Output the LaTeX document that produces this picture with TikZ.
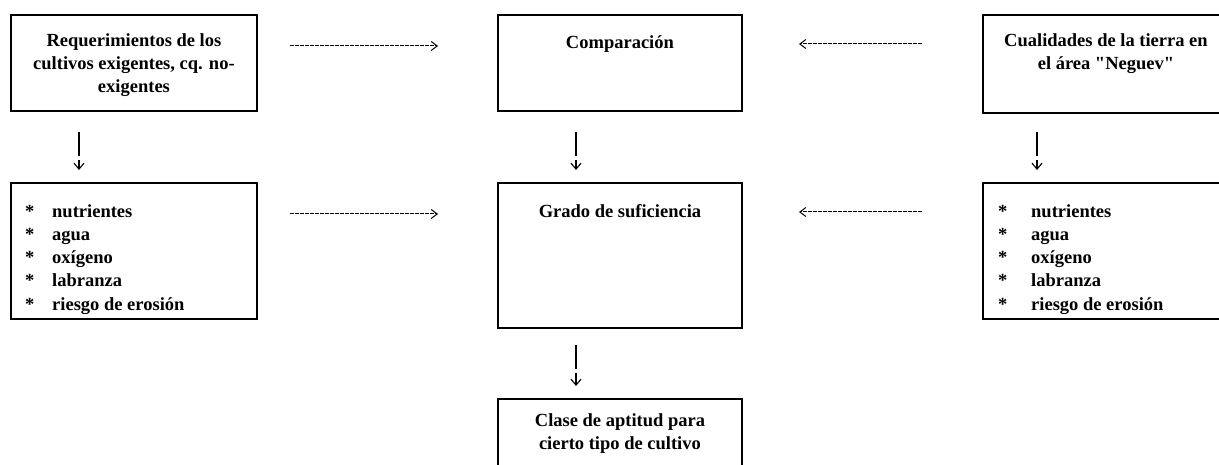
\documentclass[tikz,border=0pt]{standalone}
\usepackage{fontspec}
\setmainfont{Liberation Serif}[Ligatures=TeXOff]
\usetikzlibrary{arrows.meta,calc}
\begin{document}
\begin{tikzpicture}[x=1pt,y=-1pt,
  box/.style={draw,line width=1.9pt,inner sep=0pt,anchor=north west},
  txt/.style={font=\fontsize{18.5}{23}\selectfont\bfseries,align=center,inner sep=0pt,anchor=base},
  itm/.style={font=\fontsize{18.5}{23}\selectfont\bfseries,inner sep=0pt,anchor=base west},
  harrow/.style={line width=1pt,dash pattern=on 4pt off 1pt,-{Straight Barb[length=6pt,width=9pt,line width=1pt]}},
  varrow/.style={line width=1.5pt,dash pattern=on 24pt off 4pt,-{Straight Barb[length=6pt,width=10pt,line width=1.1pt]}}
]
\useasboundingbox (0,0) rectangle (1219,465);
\clip (0,0) rectangle (1219,465);
% boxes
\node[box,minimum width=246pt,minimum height=96pt] (req) at (10,14) {};
\node[box,minimum width=244pt,minimum height=96pt] (comp) at (497,14) {};
\node[box,minimum width=246pt,minimum height=98pt] (cual) at (982,14) {};
\node[box,minimum width=246pt,minimum height=136pt] (lstl) at (10,182) {};
\node[box,minimum width=244pt,minimum height=145pt] (grado) at (497,182) {};
\node[box,minimum width=246pt,minimum height=136pt] (lstr) at (982,182) {};
\node[box,minimum width=244pt,minimum height=90pt] (clase) at (497,398) {};
% texts (base anchor = last line)
\node[txt] (treq) at ($(req.north)+(0,79)$) {Requerimientos de los\\cultivos exigentes, cq. no-\\exigentes};
\node[txt] (tcomp) at ($(comp.north)+(0,35)$) {Comparación};
\node[txt] (tcual) at ($(cual.north)+(0,56)$) {Cualidades de la tierra en\\el área "Neguev"};
\node[txt] (tgrado) at ($(grado.north)+(0,36)$) {Grado de suficiencia};
\node[txt] (tclase) at ($(clase.north)+(0,51)$) {Clase de aptitud para\\cierto tipo de cultivo};
% lists
\foreach \t [count=\i from 0] in {nutrientes,agua,oxígeno,labranza,riesgo de erosión}{
  \node[itm] (sl\i) at ($(lstl.north west)+(15,36+23*\i)$) {*};
  \node[itm] (il\i) at ($(lstl.north west)+(42,36+23*\i)$) {\t};
  \node[itm] (sr\i) at ($(lstr.north west)+(16,36+23*\i)$) {*};
  \node[itm] (ir\i) at ($(lstr.north west)+(49,36+23*\i)$) {\t};
}
% arrow end points
\coordinate (h1a) at (290,46); \coordinate (h1b) at (438,46);
\coordinate (h2a) at (290,214); \coordinate (h2b) at (438,214);
\coordinate (h3a) at (922,44); \coordinate (h3b) at (799,44);
\coordinate (h4a) at (922,212); \coordinate (h4b) at (799,212);
\draw[harrow] (h1a) -- (h1b);
\draw[harrow] (h2a) -- (h2b);
\draw[harrow] (h3a) -- (h3b);
\draw[harrow] (h4a) -- (h4b);
% vertical arrows
\draw[varrow] ($(req.south west)+(69,20)$) -- ($(lstl.north west)+(69,-12)$);
\draw[varrow] ($(comp.south west)+(79,20)$) -- ($(grado.north west)+(79,-12)$);
\draw[varrow] ($(cual.south west)+(55,18)$) -- ($(lstr.north west)+(55,-12)$);
\draw[varrow] ($(grado.south west)+(79,16)$) -- ($(clase.north west)+(79,-12)$);
\end{tikzpicture}
\end{document}
